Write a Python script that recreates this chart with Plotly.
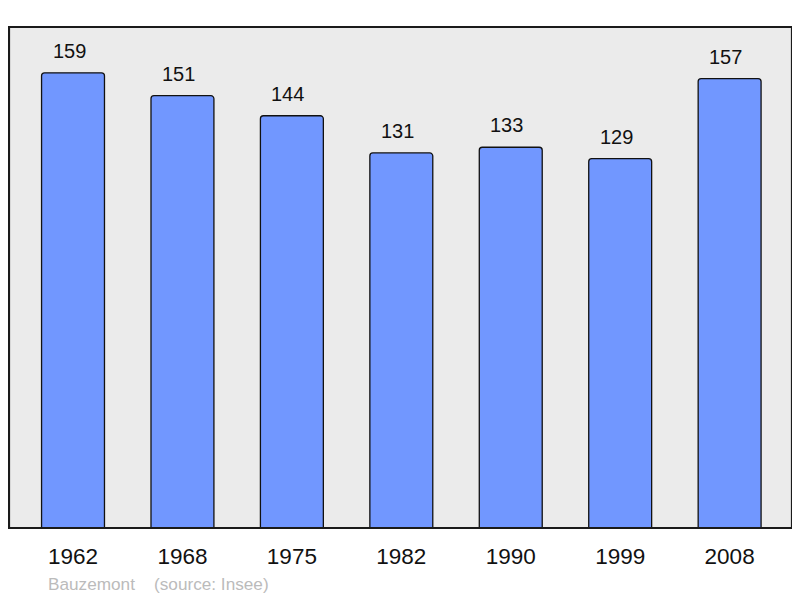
import plotly.graph_objects as go

years = ["1962", "1968", "1975", "1982", "1990", "1999", "2008"]
population = [159, 151, 144, 131, 133, 129, 157]
place = "Bauzemont"
source = "(source: Insee)"

fig = go.Figure()
fig.add_trace(go.Bar(
    x=years, y=population,
    width=0.575,
    marker=dict(color="#7197FF", line=dict(color="#111111", width=1.3), cornerradius=3),
    hoverinfo="skip",
))
for i, v in enumerate(population):
    fig.add_annotation(xref="x", yref="y", x=i, y=v, text=str(v), showarrow=False,
                       yshift=22, xshift=-4, xanchor="center", yanchor="middle",
                       font=dict(family="Liberation Sans", size=20, color="#111111"))

fig.add_annotation(xref="paper", yref="paper", x=37/783, y=-0.112, xanchor="left", yanchor="middle",
                   text=place, showarrow=False,
                   font=dict(family="Liberation Sans", size=17.2, color="#BBBBBB"))
fig.add_annotation(xref="paper", yref="paper", x=143/783, y=-0.112, xanchor="left", yanchor="middle",
                   text=source, showarrow=False,
                   font=dict(family="Liberation Sans", size=17.2, color="#BBBBBB"))

fig.add_shape(type="rect", xref="paper", yref="paper", x0=0, y0=0, x1=1, y1=1,
              line=dict(color="#1a1a1a", width=2.2), layer="above")

fig.update_layout(
    width=792, height=590,
    margin=dict(l=1, r=8, t=19, b=70),
    paper_bgcolor="white",
    plot_bgcolor="#EBEBEB",
    showlegend=False,
    xaxis=dict(type="category", range=[-0.585, 6.57], showgrid=False, zeroline=False,
               showline=False, ticks="", ticklabelstandoff=12,
               tickfont=dict(family="Liberation Sans", size=22.5, color="#111111")),
    yaxis=dict(range=[0, 175], showgrid=False, zeroline=False, showticklabels=False,
               ticks="", showline=False),
)

fig.write_html("out.html")
